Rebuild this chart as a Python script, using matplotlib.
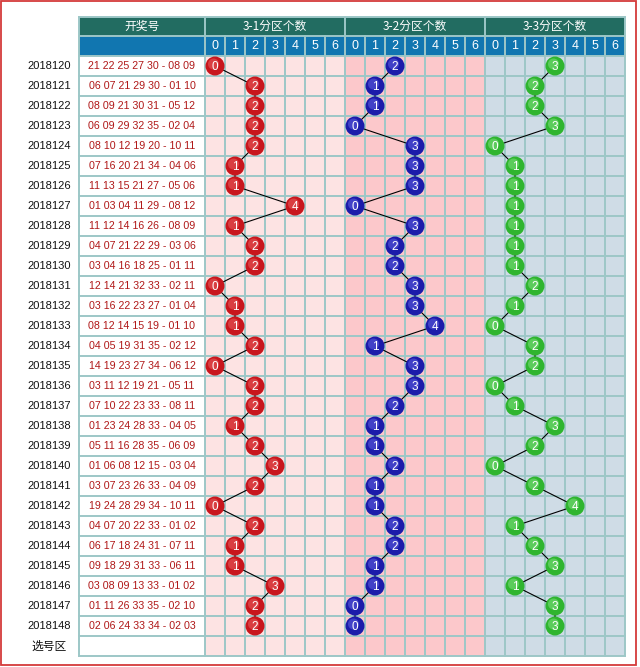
import matplotlib.pyplot as plt
from matplotlib.patches import Rectangle, Circle

plt.rcParams['font.family'] = ['Liberation Sans', 'Noto Sans CJK SC', 'DejaVu Sans']

# ---- data ----
issues = ['2018120', '2018121', '2018122', '2018123', '2018124', '2018125', '2018126',
          '2018127', '2018128', '2018129', '2018130', '2018131', '2018132', '2018133',
          '2018134', '2018135', '2018136', '2018137', '2018138', '2018139', '2018140',
          '2018141', '2018142', '2018143', '2018144', '2018145', '2018146', '2018147',
          '2018148']
draws = ['21 22 25 27 30 - 08 09', '06 07 21 29 30 - 01 10', '08 09 21 30 31 - 05 12',
         '06 09 29 32 35 - 02 04', '08 10 12 19 20 - 10 11', '07 16 20 21 34 - 04 06',
         '11 13 15 21 27 - 05 06', '01 03 04 11 29 - 08 12', '11 12 14 16 26 - 08 09',
         '04 07 21 22 29 - 03 06', '03 04 16 18 25 - 01 11', '12 14 21 32 33 - 02 11',
         '03 16 22 23 27 - 01 04', '08 12 14 15 19 - 01 10', '04 05 19 31 35 - 02 12',
         '14 19 23 27 34 - 06 12', '03 11 12 19 21 - 05 11', '07 10 22 23 33 - 08 11',
         '01 23 24 28 33 - 04 05', '05 11 16 28 35 - 06 09', '01 06 08 12 15 - 03 04',
         '03 07 23 26 33 - 04 09', '19 24 28 29 34 - 10 11', '04 07 20 22 33 - 01 02',
         '06 17 18 24 31 - 07 11', '09 18 29 31 33 - 06 11', '03 08 09 13 33 - 01 02',
         '01 11 26 33 35 - 02 10', '02 06 24 33 34 - 02 03']
zone1 = [0, 2, 2, 2, 2, 1, 1, 4, 1, 2, 2, 0, 1, 1, 2, 0, 2, 2, 1, 2, 3, 2, 0, 2, 1, 1, 3, 2, 2]
zone2 = [2, 1, 1, 0, 3, 3, 3, 0, 3, 2, 2, 3, 3, 4, 1, 3, 3, 2, 1, 1, 2, 1, 1, 2, 2, 1, 1, 0, 0]
zone3 = [3, 2, 2, 3, 0, 1, 1, 1, 1, 1, 1, 2, 1, 0, 2, 2, 0, 1, 3, 2, 0, 2, 4, 1, 2, 3, 1, 3, 3]
sections = ['3-1分区个数', '3-2分区个数', '3-3分区个数']
digits = ['0', '1', '2', '3', '4', '5', '6']
pick_label = '选号区'

# ---- layout (pixels) ----
tbl_left, txt_right = 79, 205
cw, rh = 20, 20
h1_top, h2_top, body_top = 17, 36, 56
n_rows = len(issues) + 1
body_bot = body_top + n_rows * rh
sec_bg = ['#fde3e3', '#fcc8cb', '#cfdce6']
ball_col = [('#c8161d', '#e86060'), ('#1c1caa', '#6060e0'), ('#2fb52f', '#80e080')]
grid_col = '#9dc7c7'

fig = plt.figure(figsize=(6.4, 6.67), dpi=100)
ax = fig.add_axes([0, 0, 1, 1])
ax.set_xlim(0, 640)
ax.set_ylim(667, 0)
ax.axis('off')

# outer red frame
ax.add_patch(Rectangle((1, 1), 635, 664, fill=False, ec='#d43a3a', lw=1.3))

# header backgrounds
ax.add_patch(Rectangle((tbl_left, h1_top), txt_right + 21 * cw - tbl_left, h2_top - h1_top,
                       fc='#226c61', ec='none'))
ax.add_patch(Rectangle((tbl_left, h2_top), txt_right + 21 * cw - tbl_left, body_top - h2_top,
                       fc='#1176b0', ec='none'))
ax.text((tbl_left + txt_right) / 2, (h1_top + h2_top) / 2, '开奖号', color='white',
        ha='center', va='center', fontsize=8.5, family=['Noto Sans CJK SC'])

# body backgrounds
ax.add_patch(Rectangle((tbl_left, body_top), txt_right - tbl_left, body_bot - body_top,
                       fc='white', ec='none'))
for s in range(3):
    x0 = txt_right + s * 7 * cw
    ax.add_patch(Rectangle((x0, body_top), 7 * cw, body_bot - body_top, fc=sec_bg[s], ec='none'))
    ax.text(x0 + 3.5 * cw, (h1_top + h2_top) / 2, sections[s], color='white',
            ha='center', va='center', fontsize=8.5, family=['Noto Sans CJK SC'])
    for k, d in enumerate(digits):
        ax.text(x0 + (k + 0.5) * cw, (h2_top + body_top) / 2, d, color='white',
                ha='center', va='center', fontsize=9)

# grid lines
right = txt_right + 21 * cw
for i in range(n_rows + 1):
    y = body_top + i * rh
    ax.plot([tbl_left, right], [y, y], color=grid_col, lw=1.4, zorder=2)
ax.plot([tbl_left, right], [h2_top, h2_top], color=grid_col, lw=1.4, zorder=2)
ax.plot([tbl_left, right], [h1_top, h1_top], color=grid_col, lw=1.4, zorder=2)
for xx in [tbl_left, txt_right, right]:
    ax.plot([xx, xx], [h1_top, body_bot], color=grid_col, lw=1.4, zorder=2)
for c in range(1, 21):
    xx = txt_right + c * cw
    top = h1_top if c % 7 == 0 else h2_top
    ax.plot([xx, xx], [top, body_bot], color=grid_col, lw=1.4, zorder=2)

# left column + draw numbers
for i, (iss, dr) in enumerate(zip(issues, draws)):
    yc = body_top + (i + 0.5) * rh
    ax.text(49.5, yc, iss, ha='center', va='center', fontsize=8, color='#111111')
    ax.text((tbl_left + txt_right) / 2, yc, dr, ha='center', va='center', fontsize=7.7,
            color='#b01818')
ax.text(49.5, body_top + (n_rows - 0.5) * rh, pick_label, ha='center', va='center',
        fontsize=8.5, color='#111111', family=['Noto Sans CJK SC'])

# balls and connecting lines
for s, vals in enumerate([zone1, zone2, zone3]):
    x0 = txt_right + s * 7 * cw
    xs = [x0 + (v + 0.5) * cw for v in vals]
    ys = [body_top + (i + 0.5) * rh for i in range(len(vals))]
    ax.plot(xs, ys, color='black', lw=0.8, zorder=3)
    dark, light = ball_col[s]
    for v, x, y in zip(vals, xs, ys):
        ax.add_patch(Circle((x, y), 9.5, fc=dark, ec='none', zorder=4))
        ax.add_patch(Circle((x - 1.5, y - 2), 5.5, fc=light, ec='none', alpha=0.55, zorder=4))
        ax.text(x, y + 0.5, str(v), color='white', ha='center', va='center', fontsize=8.5,
                zorder=5)

fig.savefig('out.png', dpi=100)
